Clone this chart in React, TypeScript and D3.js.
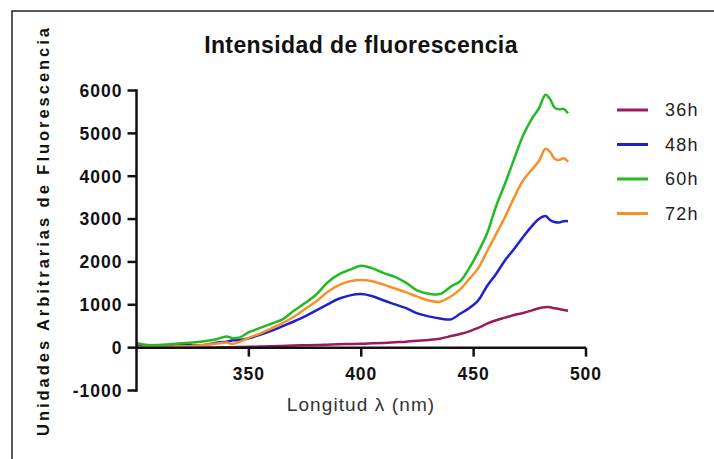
import React from 'react';
import * as d3 from 'd3';

const wavelengths = [300, 305, 310, 315, 320, 325, 330, 335, 340, 343, 346, 350, 355, 360, 365, 370, 375, 380, 385, 390, 395, 400, 405, 410, 415, 420, 425, 430, 435, 440, 444, 448, 452, 456, 460, 464, 468, 472, 476, 479, 482, 484, 486, 488, 490, 492];

const h36 = [0, 0, 0, 0, 0, 0, 0, 5, 10, 10, 15, 20, 25, 30, 40, 50, 55, 60, 70, 80, 85, 90, 100, 110, 125, 140, 160, 180, 210, 270, 320, 380, 460, 560, 640, 700, 760, 810, 870, 920, 945, 940, 920, 900, 880, 860];
const h48 = [50, 40, 40, 60, 90, 50, 60, 110, 140, 170, 180, 220, 300, 390, 500, 610, 730, 870, 1010, 1140, 1220, 1250, 1200, 1100, 1010, 920, 800, 730, 680, 660, 790, 920, 1100, 1440, 1720, 2040, 2300, 2580, 2840, 3000, 3070, 2980, 2930, 2920, 2950, 2950];
const h60 = [110, 60, 60, 80, 100, 120, 150, 190, 260, 220, 240, 360, 460, 560, 660, 860, 1040, 1240, 1520, 1710, 1820, 1910, 1850, 1740, 1650, 1510, 1330, 1260, 1250, 1430, 1550, 1850, 2230, 2670, 3300, 3830, 4400, 4950, 5350, 5580, 5900, 5800, 5600, 5560, 5570, 5470];
const h72 = [20, 10, 10, 20, 30, 40, 60, 90, 120, 90, 140, 230, 330, 450, 570, 720, 900, 1080, 1300, 1460, 1550, 1580, 1550, 1470, 1380, 1290, 1190, 1100, 1070, 1200, 1360, 1600, 1850, 2250, 2650, 3050, 3500, 3900, 4160, 4350, 4640, 4570, 4410, 4380, 4420, 4340];

const seriesNames = ['36h', '48h', '60h', '72h'];
const seriesValues = [h36, h48, h60, h72];
const seriesColors = ['#9c1a5c', '#2020cc', '#22bb22', '#f7902a'];

const xTicks = [350, 400, 450, 500];
const yTicks = [-1000, 0, 1000, 2000, 3000, 4000, 5000, 6000];

const W = 714;
const H = 459;

export default function App() {
  const x = d3.scaleLinear().domain([300, 500]).range([136.5, 586]);
  const y = d3.scaleLinear().domain([-1000, 6000]).range([390.5, 90.5]);

  const line = d3
    .line<number>()
    .x((_, i) => x(wavelengths[i]))
    .y((d) => y(d))
    .curve(d3.curveCatmullRom.alpha(0.5));

  const font = '"Liberation Sans", Arial, sans-serif';

  return (
    <svg width={W} height={H} style={{ position: 'absolute', left: 0, top: 0 }} fontFamily={font}>
      <rect x={0} y={0} width={W} height={H} fill="#fff" />
      <rect x={12} y={11} width={W + 20} height={H + 20} fill="none" stroke="#222" strokeWidth={1.5} />

      <text x={361} y={53} textAnchor="middle" fontSize={23} fontWeight="bold" letterSpacing={0.4} fill="#111">
        Intensidad de fluorescencia
      </text>

      {/* lines */}
      {seriesValues.map((vals, k) => (
        <path key={seriesNames[k]} d={line(vals) || ''} fill="none" stroke={seriesColors[k]} strokeWidth={2.5} strokeLinejoin="round" />
      ))}

      {/* y axis */}
      <line x1={x(300)} x2={x(300)} y1={y(-1000)} y2={y(6000)} stroke="#111" strokeWidth={2.5} strokeLinecap="square" />
      {yTicks.map((t) => (
        <g key={t}>
          <line x1={x(300) - 9} x2={x(300)} y1={y(t)} y2={y(t)} stroke="#111" strokeWidth={2.5} />
          <text x={x(300) - 14} y={y(t)} dy="0.36em" textAnchor="end" fontSize={17.5} fontWeight="bold" letterSpacing={1} fill="#111">
            {t}
          </text>
        </g>
      ))}

      {/* x axis at zero */}
      <line x1={x(300)} x2={x(500)} y1={y(0)} y2={y(0)} stroke="#111" strokeWidth={2.5} />
      {xTicks.map((t) => (
        <g key={t}>
          <line x1={x(t)} x2={x(t)} y1={y(0)} y2={y(0) + 9} stroke="#111" strokeWidth={2.5} />
          <text x={x(t)} y={380} textAnchor="middle" fontSize={17.5} fontWeight="bold" letterSpacing={1} fill="#111">
            {t}
          </text>
        </g>
      ))}

      <text x={361} y={411} textAnchor="middle" fontSize={19} letterSpacing={1.1} fill="#333">
        Longitud λ (nm)
      </text>

      <text
        transform="translate(49,232) rotate(-90)"
        textAnchor="middle"
        fontSize={16.5}
        fontWeight="bold"
        fill="#111"
        textLength={408}
        lengthAdjust="spacing"
      >
        Unidades Arbitrarias de Fluorescencia
      </text>

      {/* legend */}
      {seriesNames.map((name, k) => (
        <g key={name} transform={`translate(617,${110 + k * 34.5})`}>
          <line x1={0} x2={31} y1={0} y2={0} stroke={seriesColors[k]} strokeWidth={3} />
          <text x={48} y={0} dy="0.36em" fontSize={18} letterSpacing={1.2} fill="#222">
            {name}
          </text>
        </g>
      ))}
    </svg>
  );
}
